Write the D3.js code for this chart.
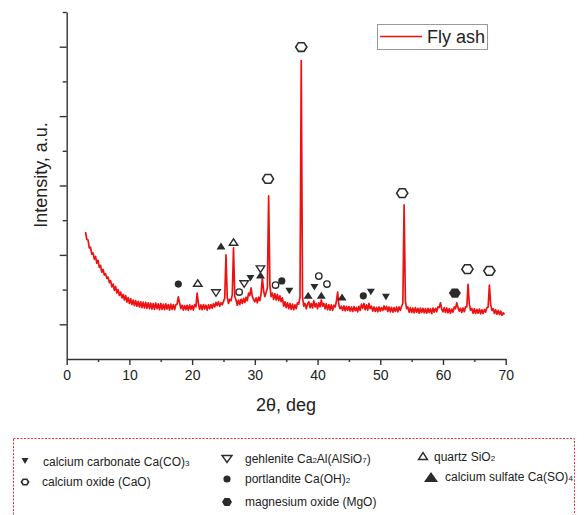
<!DOCTYPE html>
<html>
<head>
<meta charset="utf-8">
<script src="https://cdn.jsdelivr.net/npm/d3@7/dist/d3.min.js"></script>
<style>
  body { margin: 0; background: #fff; }
  svg { display: block; font-family: "Liberation Sans", Arial, sans-serif; }
</style>
</head>
<body>
<svg id="chart" width="586" height="515"></svg>
<script>
// XRD pattern of fly ash: intensity sampled every 0.2° of 2θ starting at 3.0°
const thetaStart = 3.0;
const thetaStep = 0.2;
const flyAsh = [
  366, 345, 343, 320, 322, 302, 306, 288, 296, 276,
  284, 264, 270, 250, 258, 242, 246, 232, 236, 220,
  226, 208, 216, 198, 209, 190, 200, 183, 193, 176,
  186, 170, 183, 164, 177, 160, 174, 157, 170, 154,
  168, 152, 166, 150, 165, 148, 164, 147, 163, 146,
  162, 145, 161, 144, 160, 143, 161, 145, 159, 142,
  160, 143, 158, 142, 159, 144, 157, 141, 158, 143,
  157, 142, 156, 158, 179, 162, 145, 155, 141, 154,
  142, 155, 140, 156, 143, 154, 141, 157, 150, 190,
  160, 143, 156, 142, 157, 144, 155, 141, 156, 145,
  157, 146, 159, 150, 163, 154, 165, 152, 162, 156,
  166, 175, 300, 178, 160, 172, 168, 185, 320, 180,
  170, 155, 170, 157, 172, 160, 175, 163, 178, 168,
  190, 183, 205, 180, 172, 165, 176, 162, 178, 168,
  190, 233, 196, 180, 192, 205, 470, 212, 180, 190,
  172, 188, 170, 186, 168, 182, 165, 176, 152, 165,
  148, 162, 145, 160, 143, 158, 142, 156, 145, 162,
  158, 178, 860, 178, 152, 160, 145, 158, 165, 148,
  160, 147, 168, 150, 160, 145, 162, 150, 170, 152,
  160, 145, 159, 142, 157, 141, 156, 140, 155, 150,
  165, 193, 155, 145, 152, 140, 153, 139, 152, 140,
  151, 138, 150, 137, 151, 139, 149, 136, 152, 140,
  158, 146, 160, 142, 156, 141, 160, 145, 152, 138,
  150, 137, 149, 136, 150, 138, 148, 140, 153, 142,
  152, 137, 150, 136, 149, 135, 148, 137, 150, 136,
  150, 140, 152, 160, 444, 168, 145, 150, 135, 148,
  134, 147, 133, 148, 135, 146, 132, 147, 134, 146,
  133, 145, 132, 146, 134, 145, 131, 147, 135, 146,
  136, 150, 148, 162, 144, 136, 148, 134, 147, 133,
  145, 132, 144, 135, 150, 145, 162, 148, 138, 146,
  134, 147, 136, 150, 150, 215, 158, 140, 146, 132,
  145, 131, 143, 132, 144, 130, 142, 131, 143, 135,
  148, 150, 213, 158, 140, 145, 131, 142, 129, 140,
  128, 138, 126, 133, 128
];

// Axis ticks
const xMajorTicks = [0, 10, 20, 30, 40, 50, 60, 70];
const xMinorTicks = [5, 15, 25, 35, 45, 55, 65];
const yMajorTicks = [100, 300, 500, 700, 900];
const yMinorTicks = [200, 400, 600, 800, 1000];

// Phase identification markers: [2θ, height of marker]
const calciumCarbonate = [[29.3, 233], [35.5, 196], [39.5, 207], [48.5, 193], [50.9, 179]];
const gehlenite = [[23.8, 190], [28.3, 216], [30.9, 259]];
const quartz = [[20.9, 219], [26.6, 337]];
const portlandite = [[17.8, 216], [34.3, 225], [47.3, 182]];
const calciumSulfate = [[24.6, 326], [30.9, 242], [38.5, 184], [40.6, 184], [43.9, 179]];
const calciumOxide = [[32.1, 519], [37.4, 899], [53.5, 478], [63.9, 259], [67.4, 254]];
const magnesiumOxide = [[61.9, 190]];
const minorRings = [[27.5, 193], [33.3, 213], [40.2, 239], [41.5, 216]];

const svg = d3.select("#chart");
const ink = "#2b2b2b";
const red = "#ee1111";

const x = d3.scaleLinear().domain([0, 70]).range([66.7, 505.7]);
const y = d3.scaleLinear().domain([0, 1000]).range([359, 12]);

// Axes
function styleAxis(g) {
  g.selectAll("path, line").attr("stroke", "#333").attr("stroke-width", 1.4);
  g.selectAll("text").attr("fill", "#222").attr("font-family", "Liberation Sans, Arial, sans-serif");
}
svg.append("g").attr("transform", "translate(0,359)")
  .call(d3.axisBottom(x).tickValues(xMajorTicks).tickSize(6).tickSizeOuter(0).tickPadding(5))
  .call(styleAxis)
  .call(g => g.selectAll("text").attr("font-size", 14));
svg.append("g").attr("transform", "translate(0,359)")
  .call(d3.axisBottom(x).tickValues(xMinorTicks).tickSize(3).tickFormat(""))
  .call(styleAxis)
  .call(g => g.select(".domain").remove());
svg.append("g").attr("transform", "translate(66.7,0)")
  .call(d3.axisLeft(y).tickValues(yMajorTicks).tickSize(7).tickSizeOuter(0).tickFormat(""))
  .call(styleAxis);
svg.append("g").attr("transform", "translate(66.7,0)")
  .call(d3.axisLeft(y).tickValues(yMinorTicks).tickSize(4).tickFormat(""))
  .call(styleAxis)
  .call(g => g.select(".domain").remove());

// Axis titles
svg.append("text").attr("x", 286).attr("y", 411).attr("text-anchor", "middle")
  .attr("font-size", 18).attr("fill", "#222").text("2θ, deg");
svg.append("text").attr("transform", "translate(47,175) rotate(-90)").attr("text-anchor", "middle")
  .attr("font-size", 18).attr("fill", "#222").text("Intensity, a.u.");

// Pattern
const line = d3.line()
  .x((d, i) => x(thetaStart + i * thetaStep))
  .y(d => y(d));
svg.append("path").datum(flyAsh)
  .attr("d", line).attr("fill", "none").attr("stroke", red)
  .attr("stroke-width", 1.7).attr("stroke-linejoin", "round");

// Marker shapes
function tri(cx, cy, w, h, down) {
  const s = down ? -1 : 1;
  return `M${cx - w / 2},${cy + s * h / 2}L${cx + w / 2},${cy + s * h / 2}L${cx},${cy - s * h / 2}Z`;
}
function hex(cx, cy, r) {
  const p = d3.range(6).map(k => {
    const a = Math.PI / 3 * k;
    return [cx + r * Math.cos(a), cy + r * Math.sin(a) * 0.9];
  });
  return "M" + p.map(q => q.join(",")).join("L") + "Z";
}

function drawMarkers(data, shape) {
  const g = svg.append("g");
  data.forEach(([t, v]) => shape(g, x(t), y(v)));
}
const filledDown = (g, cx, cy, w = 8, h = 6.5) => g.append("path").attr("d", tri(cx, cy, w, h, true)).attr("fill", ink);
const openDown = (g, cx, cy, w = 8.5, h = 6.5) => g.append("path").attr("d", tri(cx, cy, w, h, true)).attr("fill", "#fff").attr("stroke", ink).attr("stroke-width", 1.4);
const openUp = (g, cx, cy, w = 8.5, h = 6.5) => g.append("path").attr("d", tri(cx, cy, w, h, false)).attr("fill", "#fff").attr("stroke", ink).attr("stroke-width", 1.4);
const filledUp = (g, cx, cy, w = 9, h = 7) => g.append("path").attr("d", tri(cx, cy, w, h, false)).attr("fill", ink);
const dot = (g, cx, cy, r = 3.6) => g.append("circle").attr("cx", cx).attr("cy", cy).attr("r", r).attr("fill", ink);
const ring = (g, cx, cy, r = 3.2) => g.append("circle").attr("cx", cx).attr("cy", cy).attr("r", r).attr("fill", "#fff").attr("stroke", ink).attr("stroke-width", 1.4);
const openHex = (g, cx, cy, r = 5.6) => g.append("path").attr("d", hex(cx, cy, r)).attr("fill", "#fff").attr("stroke", ink).attr("stroke-width", 1.6);
const filledHex = (g, cx, cy, r = 6) => g.append("path").attr("d", hex(cx, cy, r)).attr("fill", ink);

drawMarkers(calciumCarbonate, filledDown);
drawMarkers(gehlenite, openDown);
drawMarkers(quartz, openUp);
drawMarkers(portlandite, dot);
drawMarkers(calciumSulfate, filledUp);
drawMarkers(calciumOxide, openHex);
drawMarkers(magnesiumOxide, filledHex);
drawMarkers(minorRings, ring);

// Series legend
const lg = svg.append("g");
lg.append("rect").attr("x", 377.5).attr("y", 24.5).attr("width", 110).attr("height", 25)
  .attr("fill", "#fff").attr("stroke", "#999").attr("stroke-width", 1);
lg.append("line").attr("x1", 380).attr("x2", 422).attr("y1", 36.5).attr("y2", 36.5)
  .attr("stroke", red).attr("stroke-width", 1.6);
lg.append("text").attr("x", 427).attr("y", 43).attr("font-size", 18).attr("fill", "#222").text("Fly ash");

// Phase key
const key = svg.append("g");
key.append("rect").attr("x", 13.5).attr("y", 438.5).attr("width", 561).attr("height", 100)
  .attr("fill", "none").attr("stroke", "#e53030").attr("stroke-width", 1).attr("stroke-dasharray", "2,1.5");

const keyEntries = [
  { sym: (g) => filledDown(g, 25, 461, 7, 6), x: 43, y: 466, parts: [["calcium carbonate Ca(CO)"], ["3", true]] },
  { sym: (g) => openHex(g, 25, 482, 3.6), x: 42, y: 486, parts: [["calcium oxide (CaO)"]] },
  { sym: (g) => openDown(g, 227, 459, 10, 7), x: 245, y: 463, parts: [["gehlenite Ca"], ["2", true], ["Al(AlSiO"], ["7", true], [")"]] },
  { sym: (g) => dot(g, 227, 479, 3.6), x: 245, y: 483, parts: [["portlandite Ca(OH)"], ["2", true]] },
  { sym: (g) => filledHex(g, 227, 502, 5), x: 245, y: 506, parts: [["magnesium oxide (MgO)"]] },
  { sym: (g) => openUp(g, 423, 456, 9, 7), x: 434, y: 461, parts: [["quartz SiO"], ["2", true]] },
  { sym: (g) => filledUp(g, 431, 477, 14, 10), x: 445, y: 481, parts: [["calcium sulfate Ca(SO)"], ["4", true]] }
];
keyEntries.forEach(e => {
  e.sym(key);
  const t = key.append("text").attr("x", e.x).attr("y", e.y).attr("font-size", 12).attr("fill", "#222");
  e.parts.forEach(([s, sub]) => {
    const ts = t.append("tspan").text(s);
    if (sub) ts.attr("font-size", 8);
  });
});
</script>
</body>
</html>
